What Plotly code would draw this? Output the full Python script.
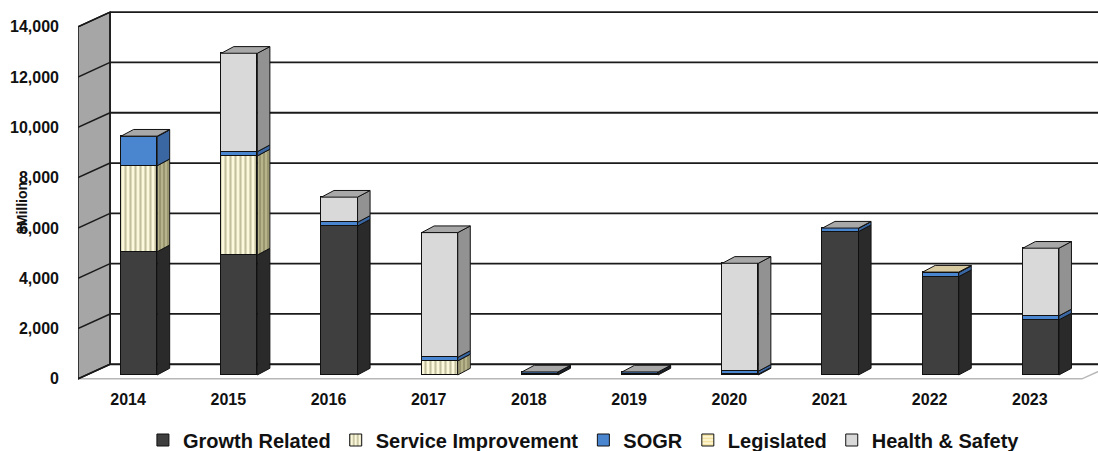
import plotly.graph_objects as go

# ---- data ($ Million) ----
years = ["2014", "2015", "2016", "2017", "2018", "2019", "2020", "2021", "2022", "2023"]
growth_related = [4900, 4770, 5920, 0, 50, 50, 30, 5700, 3910, 2190]
service_improvement = [3420, 3940, 0, 560, 0, 0, 0, 0, 0, 0]
sogr = [1160, 170, 150, 140, 50, 50, 120, 130, 160, 160]
legislated = [0, 0, 0, 0, 0, 0, 0, 0, 20, 0]
health_safety = [15, 3910, 1000, 4960, 20, 20, 4290, 10, 0, 2690]
y_ticks = [0, 2000, 4000, 6000, 8000, 10000, 12000, 14000]

series = [
    # name, values, front colour, side colour, top colour, pattern
    ("Growth Related", growth_related, "#3f3f3f", "#2a2a2a", "#303030", None),
    ("Service Improvement", service_improvement, "#fbf8dc", "#b7b48c", "#c9c39a",
     dict(shape="|", fgcolor="#8a875c", bgcolor="#fbf8dc", size=5, solidity=0.42)),
    ("SOGR", sogr, "#4a86d0", "#3a66a2", "#5b80b4", None),
    ("Legislated", legislated, "#fdf3c0", "#cbbd84", "#d8caa0",
     dict(shape="-", fgcolor="#e3c043", bgcolor="#fdf6d2", size=4, solidity=0.35)),
    ("Health & Safety", health_safety, "#d9d9d9", "#929292", "#a8a8a8", None),
]

# ---- pseudo-3D geometry (axis units) ----
BAR_W = 0.36            # front face width
BAR_DX, BAR_DY = 0.125, 265   # bar depth vector
WALL_DX, WALL_DY = 0.32, 580  # floor / side wall depth vector
FRONT_Y = -155          # front edge of floor relative to bar base
LEFT_X = -0.61          # front edge of side wall
FLOOR_RIGHT = 9.41
X_RANGE = [-0.61, 9.57]
Y_RANGE = [-240, 14510]
TOP = y_ticks[-1]

xs = list(range(len(years)))
fig = go.Figure()

# front faces
for name, vals, front, side, top, pat in series:
    marker = dict(color=front, line=dict(color="#111111", width=1))
    if pat:
        marker["pattern"] = pat
    fig.add_trace(go.Bar(
        x=xs, y=[v if v > 0 else None for v in vals], name=name, width=BAR_W,
        marker=marker, hoverinfo="skip"))

# side faces
base = [0] * len(years)
for name, vals, front, side, top, pat in series:
    px, py = [], []
    for i, v in enumerate(vals):
        if v > 0:
            b, t = base[i], base[i] + v
            x0 = i + BAR_W / 2
            px += [x0, x0, x0 + BAR_DX, x0 + BAR_DX, x0, None]
            py += [b, t, t + BAR_DY, b + BAR_DY, b, None]
            base[i] = t
    kw = dict(fill="toself", fillcolor=side)
    if pat:
        kw["fillpattern"] = dict(shape=pat["shape"], fgcolor="#6a6844", bgcolor=side,
                                 size=4, solidity=0.4)
    fig.add_trace(go.Scatter(x=px, y=py, mode="lines", line=dict(color="#111111", width=1),
                             showlegend=False, hoverinfo="skip", **kw))

# top faces, coloured by the topmost non-zero series
tops = {}
for i in xs:
    total = sum(s[1][i] for s in series)
    top_col = [s[4] for s in series if s[1][i] > 0][-1]
    x0, x1 = i - BAR_W / 2, i + BAR_W / 2
    tx, ty = tops.setdefault(top_col, ([], []))
    tx += [x0, x1, x1 + BAR_DX, x0 + BAR_DX, x0, None]
    ty += [total, total, total + BAR_DY, total + BAR_DY, total, None]
for col, (tx, ty) in tops.items():
    fig.add_trace(go.Scatter(x=tx, y=ty, mode="lines", fill="toself", fillcolor=col,
                             line=dict(color="#111111", width=1),
                             showlegend=False, hoverinfo="skip"))

# walls, floor and gridlines
back_x = LEFT_X + WALL_DX
back_y0 = FRONT_Y + WALL_DY
shapes = []
shapes.append(dict(type="path", layer="below",
                   path=f"M{LEFT_X},{FRONT_Y} L{FLOOR_RIGHT},{FRONT_Y} "
                        f"L{FLOOR_RIGHT + WALL_DX},{back_y0} L{back_x},{back_y0} Z",
                   fillcolor="white", line=dict(color="#b8b8b8", width=1.5)))
shapes.append(dict(type="path", layer="below",
                   path=f"M{LEFT_X},{FRONT_Y} L{LEFT_X},{TOP + FRONT_Y} "
                        f"L{back_x},{TOP + back_y0} L{back_x},{back_y0} Z",
                   fillcolor="#a6a6a6", line=dict(color="#111111", width=1.5)))
for k in y_ticks:
    shapes.append(dict(type="line", layer="below", x0=back_x, x1=X_RANGE[1] + 1,
                       y0=k + back_y0, y1=k + back_y0,
                       line=dict(color="#1a1a1a", width=1.8)))
    shapes.append(dict(type="line", layer="below", x0=LEFT_X, x1=back_x,
                       y0=k + FRONT_Y, y1=k + back_y0,
                       line=dict(color="#1a1a1a", width=1.5)))
shapes.append(dict(type="line", layer="below", x0=back_x, x1=back_x,
                   y0=back_y0, y1=TOP + back_y0, line=dict(color="#1a1a1a", width=1.5)))

font_family = "Liberation Sans, Arial, sans-serif"
fig.update_layout(
    width=1098, height=451,
    margin=dict(l=78, r=0, t=10, b=70, autoexpand=False),
    paper_bgcolor="white", plot_bgcolor="white",
    barmode="stack", bargap=0,
    shapes=shapes,
    showlegend=True,
    legend=dict(orientation="h", x=0.496, xanchor="center",
                yref="container", y=1 - 440 / 451, yanchor="middle",
                traceorder="normal", bgcolor="rgba(0,0,0,0)",
                font=dict(family=font_family, size=20, color="#111111", weight="bold")),
    xaxis=dict(range=X_RANGE, showgrid=False, zeroline=False, showline=False,
               tickmode="array", tickvals=[i - 0.11 for i in xs], ticktext=years,
               ticks="", ticklabelstandoff=7,
               tickfont=dict(family=font_family, size=16, color="#111111", weight="bold")),
    yaxis=dict(range=Y_RANGE, showgrid=False, zeroline=False, showline=False,
               tickmode="array", tickvals=[k + FRONT_Y for k in y_ticks],
               ticktext=[f"{k:,}" for k in y_ticks], ticks="", ticklabelstandoff=18,
               tickfont=dict(family=font_family, size=16, color="#111111", weight="bold")),
    annotations=[dict(text="$Million", textangle=-90, xref="paper", yref="paper",
                      x=(22 - 78) / 1020, y=(381 - 208) / 371, showarrow=False,
                      xanchor="center", yanchor="middle",
                      font=dict(family=font_family, size=14, color="#111111", weight="bold"))],
)

fig.write_html("out.html")
